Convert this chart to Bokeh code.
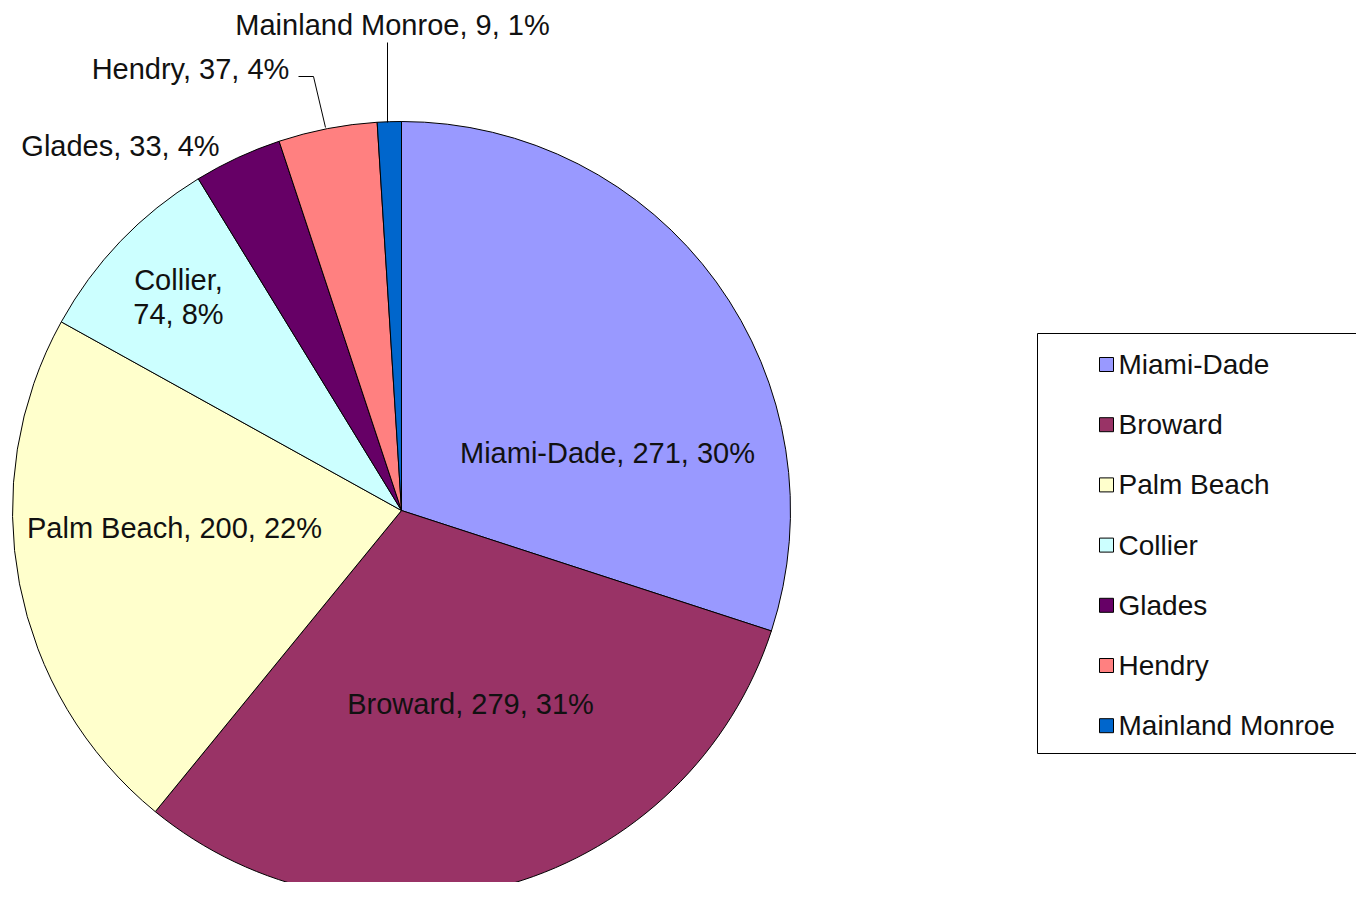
import math
from bokeh.plotting import figure
from bokeh.models import Range1d
from bokeh.core.properties import value
from bokeh.embed import file_html
from bokeh.resources import INLINE

# ---- data ----
categories = ["Miami-Dade", "Broward", "Palm Beach", "Collier", "Glades", "Hendry", "Mainland Monroe"]
counts = [271, 279, 200, 74, 33, 37, 9]
colors = ["#9999FF", "#993366", "#FFFFCC", "#CCFFFF", "#660066", "#FF8080", "#0066CC"]

W, H = 1356, 882
FONT = "Liberation Sans"

def X(px):
    return px

def Y(py):
    return H - py

p = figure(width=W, height=H, output_backend="svg", toolbar_location=None,
           x_range=Range1d(0, W), y_range=Range1d(0, H), min_border=0)
p.axis.visible = False
p.grid.visible = False
p.outline_line_color = None
p.background_fill_color = "white"
p.border_fill_color = "white"

# ---- pie ----
total = sum(counts)
cx, cy, r = X(401), Y(510), 389
starts, ends = [], []
cum = 0
for v in counts:
    starts.append(math.pi / 2 - cum / total * 2 * math.pi)
    cum += v
    ends.append(math.pi / 2 - cum / total * 2 * math.pi)

p.wedge(x=[cx] * len(counts), y=[cy] * len(counts), radius=r,
        start_angle=starts, end_angle=ends, direction="clock",
        fill_color=colors, line_color="black", line_width=1)

# ---- data labels ----
pct = [round(v / total * 100) for v in counts]
label_pos = [(607, 452), (470, 703), (174, 527), None, (120, 145), (190, 68), (392, 24)]
lx, ly, lt = [], [], []
for i, (c, v, pc) in enumerate(zip(categories, counts, pct)):
    if label_pos[i] is None:
        continue
    lx.append(X(label_pos[i][0]))
    ly.append(Y(label_pos[i][1]))
    lt.append(f"{c}, {v}, {pc}%")
# Collier label on two lines
lx += [X(178), X(178)]
ly += [Y(279), Y(313)]
lt += [f"{categories[3]},", f"{counts[3]}, {pct[3]}%"]

p.text(x=lx, y=ly, text=lt, text_font=value(FONT), text_font_size="29px",
       text_align="center", text_baseline="middle", text_color="#111111")

# leader lines
p.line(x=[X(387), X(387)], y=[Y(42), Y(122)], line_color="black", line_width=1)
p.line(x=[X(298), X(313), X(325)], y=[Y(76), Y(76), Y(127)], line_color="black", line_width=1)

# ---- legend ----
p.quad(left=[X(1037)], right=[X(1420)], top=[Y(333)], bottom=[Y(753)],
       fill_color="white", line_color="black", line_width=1)
rows_y = [Y(364 + 60.2 * i) for i in range(len(categories))]
p.rect(x=[X(1106)] * len(categories), y=rows_y, width=14, height=14,
       fill_color=colors, line_color="black", line_width=1)
p.text(x=[X(1118)] * len(categories), y=rows_y, text=categories,
       text_font=value(FONT), text_font_size="28px", text_align="left",
       text_baseline="middle", text_color="#111111")

open("out.html", "w").write(file_html(p, INLINE))
